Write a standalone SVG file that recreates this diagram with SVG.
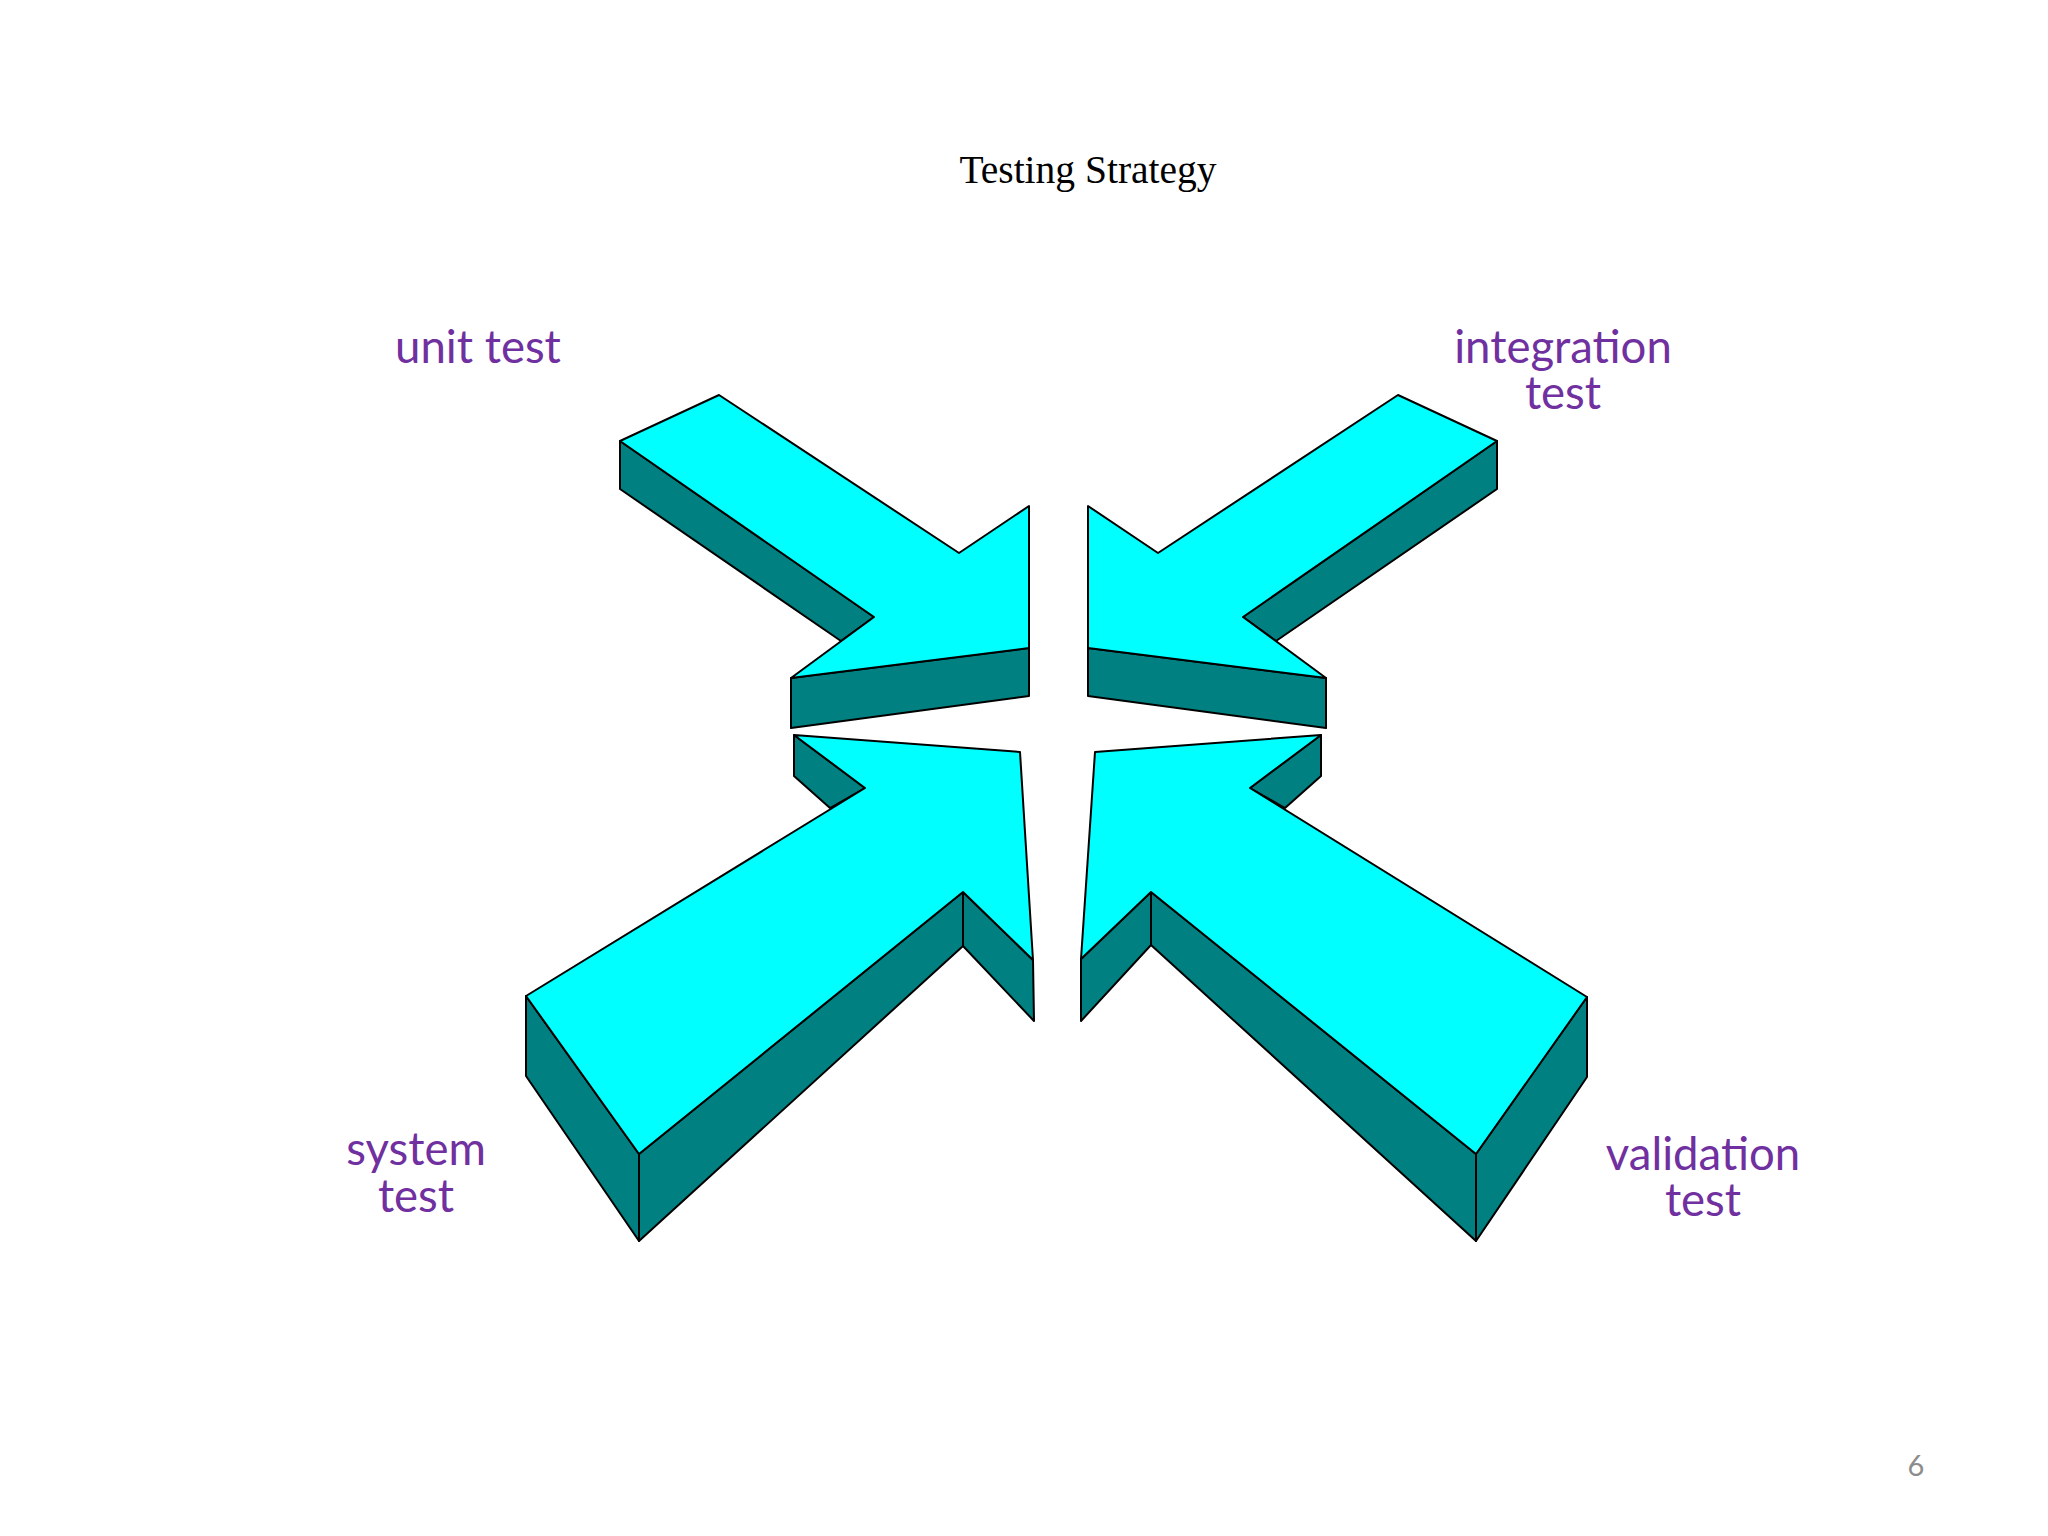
<svg xmlns="http://www.w3.org/2000/svg" width="2048" height="1536" viewBox="0 0 2048 1536">
<style>
.top{fill:#00FFFF;stroke:#000;stroke-width:2;stroke-linejoin:round}
.side{fill:#008080;stroke:#000;stroke-width:2;stroke-linejoin:round}
.lbl{font-family:Lato,"Liberation Sans",sans-serif;font-size:45.5px;fill:#7030A0;text-anchor:middle}
</style>
<rect width="2048" height="1536" fill="#fff"/>
<text x="1088" y="183" font-family="'Liberation Serif',serif" font-size="39.5" fill="#000" text-anchor="middle">Testing Strategy</text>
<g id="arrow-unit">
<polygon class="side" points="620,441 874,617 841,641 620,489"/>
<polygon class="side" points="791,678 1029,648 1029,696 791,728"/>
<polygon class="top" points="620,441 719,395 959,553 1029,506 1029,648 791,678 874,617"/>
</g>
<g id="arrow-integration">
<polygon class="side" points="1497,441 1243,617 1276,641 1497,489"/>
<polygon class="side" points="1326,678 1088,648 1088,696 1326,728"/>
<polygon class="top" points="1497,441 1398,395 1158,553 1088,506 1088,648 1326,678 1243,617"/>
</g>
<g id="arrow-system">
<polygon class="side" points="794,735 865,788 830,808 794,776"/>
<polygon class="side" points="526,996 639,1154 639,1241 526,1076"/>
<polygon class="side" points="639,1154 963,892 963,946 639,1241"/>
<polygon class="side" points="963,892 1033,960 1034,1021 963,946"/>
<polygon class="top" points="794,735 1020,752 1033,960 963,892 639,1154 526,996 865,788"/>
</g>
<g id="arrow-validation">
<polygon class="side" points="1321,735 1250,788 1285,808 1321,776"/>
<polygon class="side" points="1587,997 1476,1154 1476,1241 1587,1077"/>
<polygon class="side" points="1476,1154 1151,892 1151,945 1476,1241"/>
<polygon class="side" points="1151,892 1081,959 1081,1021 1151,945"/>
<polygon class="top" points="1321,735 1095,752 1081,959 1151,892 1476,1154 1587,997 1250,788"/>
</g>
<g id="connectors"/>
<g id="label-unit"><text class="lbl" x="478" y="363">unit test</text></g>
<g id="label-integration"><text class="lbl" x="1563" y="363">integration</text><text class="lbl" x="1563" y="409">test</text></g>
<g id="label-system"><text class="lbl" x="416" y="1165">system</text><text class="lbl" x="416" y="1212">test</text></g>
<g id="label-validation"><text class="lbl" x="1703" y="1170">validation</text><text class="lbl" x="1703" y="1216">test</text></g>
<text x="1916" y="1476" font-family="Lato,'Liberation Sans',sans-serif" font-size="29" fill="#8C8C8C" text-anchor="middle">6</text>
</svg>
